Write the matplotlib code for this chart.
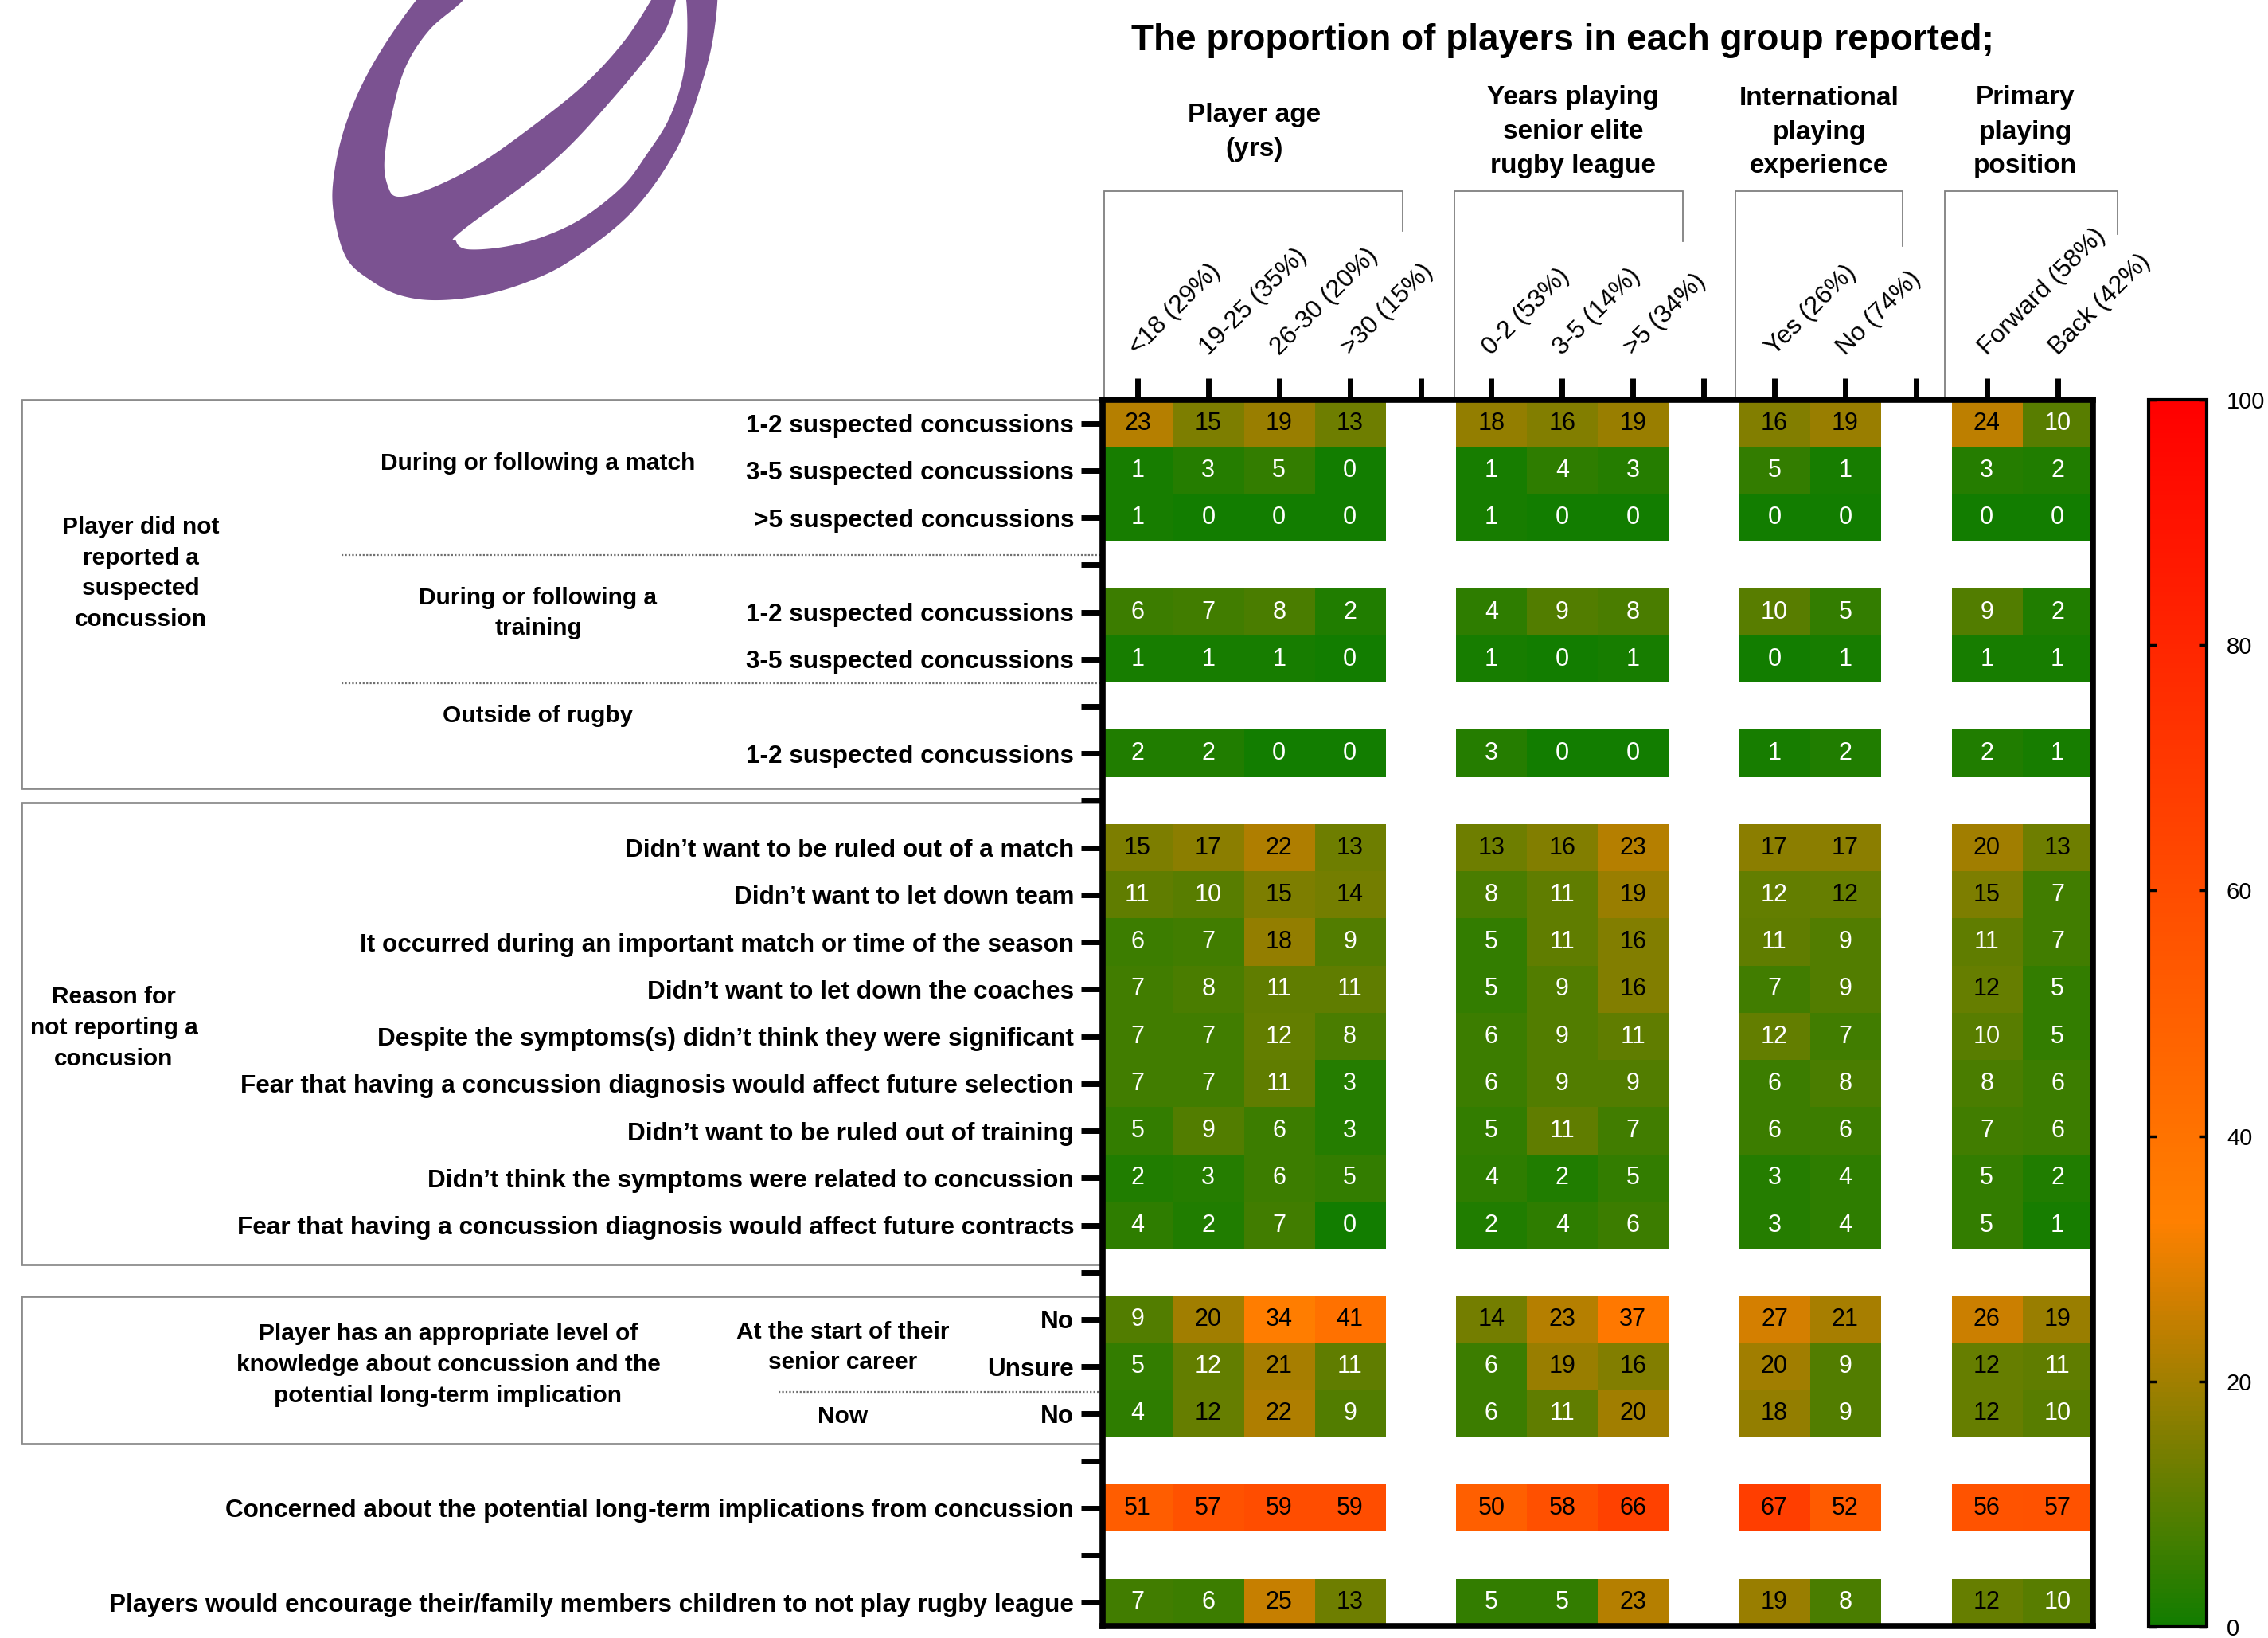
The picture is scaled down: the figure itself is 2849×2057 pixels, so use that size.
import numpy as np
import matplotlib
matplotlib.use('Agg')
import matplotlib.pyplot as plt
from matplotlib.colors import LinearSegmentedColormap

plt.rcParams['font.family'] = ['Liberation Sans', 'DejaVu Sans']

# ---- column groups ----
age_cols = ['<18 (29%)', '19-25 (35%)', '26-30 (20%)', '>30 (15%)']
years_cols = ['0-2 (53%)', '3-5 (14%)', '>5 (34%)']
intl_cols = ['Yes (26%)', 'No (74%)']
pos_cols = ['Forward (58%)', 'Back (42%)']
group_cols = [age_cols, years_cols, intl_cols, pos_cols]
group_titles = ['Player age\n(yrs)', 'Years playing\nsenior elite\nrugby league',
                'International\nplaying\nexperience', 'Primary\nplaying\nposition']

# ---- values (%), order: age | years | international | position ----
# (a few "12"s drawn with white text are a touch under 12 before rounding)
match_1_2 = [23, 15, 19, 13, 18, 16, 19, 16, 19, 24, 10]
match_3_5 = [1, 3, 5, 0, 1, 4, 3, 5, 1, 3, 2]
match_gt5 = [1, 0, 0, 0, 1, 0, 0, 0, 0, 0, 0]
train_1_2 = [6, 7, 8, 2, 4, 9, 8, 10, 5, 9, 2]
train_3_5 = [1, 1, 1, 0, 1, 0, 1, 0, 1, 1, 1]
outside_1_2 = [2, 2, 0, 0, 3, 0, 0, 1, 2, 2, 1]
r_ruled_match = [15, 17, 22, 13, 13, 16, 23, 17, 17, 20, 13]
r_team = [11, 10, 15, 14, 8, 11, 19, 11.6, 12, 15, 7]
r_important = [6, 7, 18, 9, 5, 11, 16, 11, 9, 11, 7]
r_coaches = [7, 8, 11, 11, 5, 9, 16, 7, 9, 12, 5]
r_significant = [7, 7, 11.6, 8, 6, 9, 11, 11.6, 7, 10, 5]
r_selection = [7, 7, 11, 3, 6, 9, 9, 6, 8, 8, 6]
r_ruled_training = [5, 9, 6, 3, 5, 11, 7, 6, 6, 7, 6]
r_related = [2, 3, 6, 5, 4, 2, 5, 3, 4, 5, 2]
r_contracts = [4, 2, 7, 0, 2, 4, 6, 3, 4, 5, 1]
know_start_no = [9, 20, 34, 41, 14, 23, 37, 27, 21, 26, 19]
know_start_unsure = [5, 11.6, 21, 11, 6, 19, 16, 20, 9, 12, 11]
know_now_no = [4, 12, 22, 9, 6, 11, 20, 18, 9, 12, 10]
concerned = [51, 57, 59, 59, 50, 58, 66, 67, 52, 56, 57]
discourage = [7, 6, 25, 13, 5, 5, 23, 19, 8, 12, 10]

rows = [
    ('1-2 suspected concussions', match_1_2),
    ('3-5 suspected concussions', match_3_5),
    ('>5 suspected concussions', match_gt5),
    None,
    ('1-2 suspected concussions', train_1_2),
    ('3-5 suspected concussions', train_3_5),
    None,
    ('1-2 suspected concussions', outside_1_2),
    None,
    ('Didn\u2019t want to be ruled out of a match', r_ruled_match),
    ('Didn\u2019t want to let down team', r_team),
    ('It occurred during an important match or time of the season', r_important),
    ('Didn\u2019t want to let down the coaches', r_coaches),
    ('Despite the symptoms(s) didn\u2019t think they were significant', r_significant),
    ('Fear that having a concussion diagnosis would affect future selection', r_selection),
    ('Didn\u2019t want to be ruled out of training', r_ruled_training),
    ('Didn\u2019t think the symptoms were related to concussion', r_related),
    ('Fear that having a concussion diagnosis would affect future contracts', r_contracts),
    None,
    ('No', know_start_no),
    ('Unsure', know_start_unsure),
    ('No', know_now_no),
    None,
    ('Concerned about the potential long-term implications from concussion', concerned),
    None,
    ('Players would encourage their/family members children to not play rugby league', discourage),
]

# build the matrix with empty spacer columns / rows
col_slots, xlabels = [], []
slot = 0
for g, cols in enumerate(group_cols):
    for c in cols:
        col_slots.append(slot)
        xlabels.append(c)
        slot += 1
    if g < len(group_cols) - 1:
        xlabels.append('')
        slot += 1
ncols = slot
nrows = len(rows)
M = np.full((nrows, ncols), np.nan)
ylabels = []
for i, r in enumerate(rows):
    if r is None:
        ylabels.append('')
        continue
    ylabels.append(r[0])
    M[i, col_slots] = r[1]

# ---- figure ----
W, H = 2849, 2057
fig = plt.figure(figsize=(W / 100, H / 100), dpi=100, facecolor='white')

AX_L, AX_R, AX_T, AX_B = 1384.5, 2629, 502, 2042
ax = fig.add_axes([AX_L / W, 1 - AX_B / H, (AX_R - AX_L) / W, (AX_B - AX_T) / H], zorder=2)

cmap = LinearSegmentedColormap.from_list('gor', [(0, '#127d00'), (0.33, '#ff8000'), (1.0, '#ff0000')])
cmap.set_bad('white')
im = ax.imshow(np.ma.masked_invalid(M), cmap=cmap, vmin=0, vmax=100, aspect='auto',
               interpolation='nearest')

for i in range(nrows):
    for j in range(ncols):
        v = M[i, j]
        if np.isnan(v):
            continue
        ax.text(j, i, f'{v:.0f}', ha='center', va='center', fontsize=22,
                color='black' if v >= 12 else 'white')

ax.xaxis.tick_top()
ax.set_xticks(range(ncols))
ax.set_xticklabels(xlabels, fontsize=23)
plt.setp(ax.get_xticklabels(), rotation=45, ha='left', va='baseline', rotation_mode='anchor')
ax.set_yticks(range(nrows))
ax.set_yticklabels(ylabels, fontsize=22.7, fontweight='bold')
ax.tick_params(axis='x', length=19.5, width=5, pad=20)
ax.tick_params(axis='y', length=19.5, width=5, pad=6)
for sp in ax.spines.values():
    sp.set_linewidth(5.5)

# colour bar
cax = fig.add_axes([2699 / W, 1 - 2043 / H, 73 / W, 1541 / H])
cb = fig.colorbar(im, cax=cax, ticks=[0, 20, 40, 60, 80, 100])
cb.outline.set_linewidth(3)
cax.tick_params(direction='in', left=True, right=True, labelleft=False, labelright=True,
                length=7, width=2.5, labelsize=21, pad=18)

# ---- overlay in pixel coordinates for annotations ----
ov = fig.add_axes([0, 0, 1, 1], zorder=0)
ov.set_xlim(0, W)
ov.set_ylim(H, 0)
ov.axis('off')


def smooth_closed(pts, n=24):
    pts = np.asarray(pts, float)
    out = []
    N = len(pts)
    t = np.linspace(0, 1, n, endpoint=False)[:, None]
    for i in range(N):
        p0, p1, p2, p3 = pts[i - 1], pts[i], pts[(i + 1) % N], pts[(i + 2) % N]
        out.append(0.5 * (2 * p1 + (p2 - p0) * t + (2 * p0 - 5 * p1 + 4 * p2 - p3) * t ** 2
                          + (-p0 + 3 * p1 - 3 * p2 + p3) * t ** 3))
    return np.vstack(out)


# logo (rugby ball)
purple = '#7b5291'
outer = [(523, 0), (467, 83), (433, 160), (418, 233), (422, 283), (437, 327), (467, 353),
         (500, 370), (543, 377), (600, 372), (660, 355), (717, 327), (793, 267), (850, 187),
         (883, 100), (898, 33), (900, -30), (880, -90), (700, -110), (580, -60)]
hole1 = [(582, 0), (540, 37), (510, 83), (493, 140), (483, 200), (487, 233), (500, 247),
         (540, 237), (600, 207), (667, 160), (733, 107), (783, 53), (818, 0), (840, -40),
         (700, -60), (610, -40)]
hole2 = [(862, 0), (863, 50), (857, 100), (840, 150), (813, 193), (783, 233), (733, 273),
         (683, 297), (633, 310), (587, 313), (573, 303), (580, 290), (690, 207), (767, 127),
         (833, 43), (855, -20)]
for pts, col in [(outer, purple), (hole1, 'white'), (hole2, 'white')]:
    s = smooth_closed(pts)
    ov.fill(s[:, 0], s[:, 1], color=col, lw=0)

# title and group headers
ov.text(1963, 51, 'The proportion of players in each group reported;', ha='center',
        va='center', fontsize=33, fontweight='bold')
head_x = [1576, 1976, 2285, 2544]
for x, t in zip(head_x, group_titles):
    ov.text(x, 166, t, ha='center', va='center', fontsize=24, fontweight='bold',
            linespacing=1.5)

# brackets above the column groups
brackets = [(1387, 1762, 290), (1827, 2114, 303), (2180, 2390, 309), (2443, 2660, 294)]
for xl, xr, yend in brackets:
    ov.plot([xl, xl, xr, xr], [AX_T, 240, 240, yend], color='#7f7f7f', lw=1.3,
            solid_joinstyle='miter')

# boxes on the left
gray = '#8c8c8c'
for yt, yb in [(502, 990), (1008, 1588), (1628, 1813)]:
    ov.plot([AX_L, 27, 27, AX_L], [yt, yt, yb, yb], color=gray, lw=2)

# dotted separators
for x0, y in [(429, 697), (429, 858), (978, 1748)]:
    ov.plot([x0, AX_L], [y, y], color='#6f6f6f', lw=1.6, ls=(0, (1, 1)))

lab = dict(ha='center', va='center', fontsize=21.5, fontweight='bold', linespacing=1.48)
ov.text(177, 720, 'Player did not\nreported a\nsuspected\nconcussion', **lab)
ov.text(676, 582, 'During or following a match', **lab)
ov.text(676, 770, 'During or following a\ntraining', **lab)
ov.text(676, 899, 'Outside of rugby', **lab)
ov.text(143, 1291, 'Reason for\nnot reporting a\nconcusion', **lab)
ov.text(563, 1714, 'Player has an appropriate level of\nknowledge about concussion and the\n'
        'potential long-term implication', **lab)
ov.text(1059, 1692, 'At the start of their\nsenior career', **lab)
ov.text(1059, 1779, 'Now', **lab)

fig.savefig('out.png', dpi=100, facecolor='white')
